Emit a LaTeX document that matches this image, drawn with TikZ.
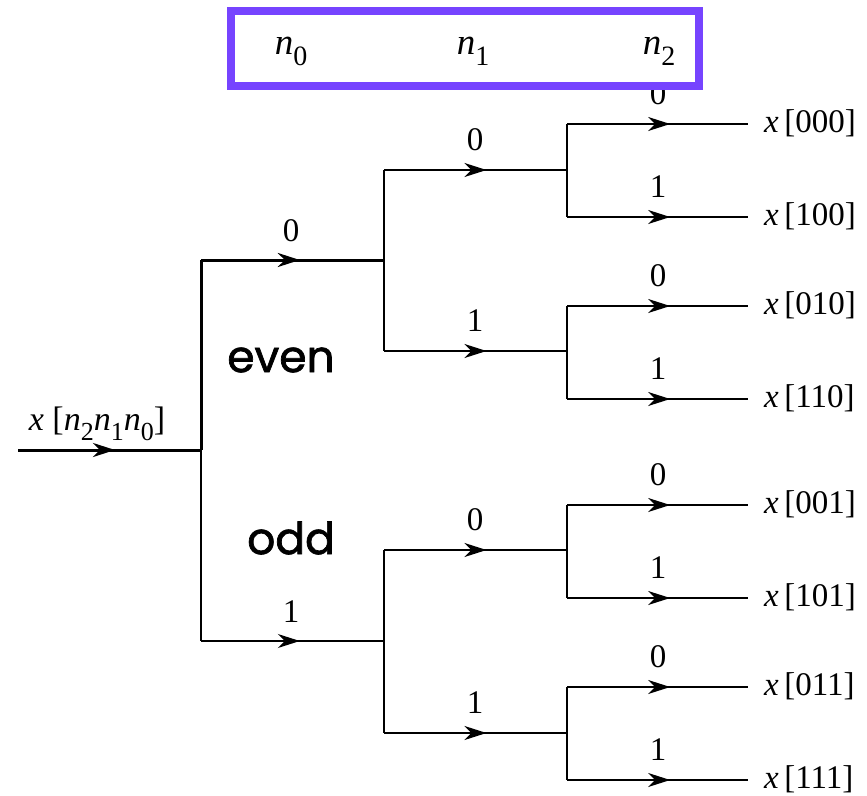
\documentclass[tikz,border=0pt]{standalone}
\usepackage{fontspec}
\setmainfont{Liberation Serif}
\newfontfamily\tagfont{Poppins}[FakeBold=1.6]
\usetikzlibrary{arrows.meta,decorations.markings}

% italic symbol with a lowered subscript digit, in Times-like text fonts
\newcommand{\isub}[3]{\textit{#1}\raisebox{-0.3em}{\fontsize{#3}{#3}\selectfont #2}}

\tikzset{
  thinwire/.style={line width=1.3pt},
  thickwire/.style={line width=3pt},
  flow/.style={postaction={decorate},
    decoration={markings,
      mark=at position #1 with {\arrow{Stealth[length=22pt,width=14pt,inset=7pt]}}}},
  flow/.default=0.56,
  bit/.style={font=\fontsize{33}{33}\selectfont, inner sep=0pt},
  outlbl/.style={font=\fontsize{33}{33}\selectfont, anchor=west, inner sep=0pt},
  tag/.style={font=\tagfont\fontsize{44}{44}\selectfont, inner sep=0pt},
  hdr/.style={font=\fontsize{37}{37}\selectfont, inner sep=0pt},
  frame/.style={draw={rgb,255:red,118;green,68;blue,255}, line width=8pt}
}

\begin{document}
\begin{tikzpicture}[x=1pt,y=-1pt]
\useasboundingbox (0,0) rectangle (867,795);

% input and first split
\coordinate (in) at (18,450);
\coordinate (r) at (201,450);
\coordinate (rt) at (201,260);
\coordinate (rb) at (201,641);
\coordinate (s0) at (384,260);
\coordinate (s1) at (384,641);

\draw[thickwire,flow=0.53] (in) -- (r);
\draw[thickwire] (r) -- (rt);
\draw[thickwire,flow=0.54] (rt) -- (s0);
\draw[thinwire] (r) -- (rb);
\draw[thinwire,flow=0.54] (rb) -- (s1);

\node[font=\fontsize{34}{34}\selectfont, inner sep=0pt] (inlbl) at (97,424)
  {\textit{x} [\isub{n}{2}{26}\isub{n}{1}{26}\isub{n}{0}{26}]};
\node[bit] (l0) at (291,231) {0};
\node[bit] (l1) at (291,612) {1};

% second split
\foreach \src/\ya/\yb/\na/\nb in {s0/170/351/t00/t01, s1/550/733/t10/t11}{
  \coordinate (\na a) at (384,\ya);
  \coordinate (\nb a) at (384,\yb);
  \coordinate (\na) at (567,\ya);
  \coordinate (\nb) at (567,\yb);
  \draw[thinwire] (\na a) -- (\nb a);
  \draw[thinwire,flow] (\na a) -- (\na);
  \draw[thinwire,flow] (\nb a) -- (\nb);
  \node[bit] (\na l) at (475,\ya-30) {0};
  \node[bit] (\nb l) at (475,\yb-30) {1};
}

% third split and outputs
\foreach \src/\ya/\yb/\oa/\ob in {t00/124/217/000/100, t01/306/399/010/110,
                                  t10/505/598/001/101, t11/687/780/011/111}{
  \coordinate (u\oa) at (567,\ya);
  \coordinate (u\ob) at (567,\yb);
  \coordinate (e\oa) at (748,\ya);
  \coordinate (e\ob) at (748,\yb);
  \draw[thinwire] (u\oa) -- (u\ob);
  \draw[thinwire,flow=0.57] (u\oa) -- (e\oa);
  \draw[thinwire,flow=0.57] (u\ob) -- (e\ob);
  \node[bit] (b\oa) at (658,\ya-30) {0};
  \node[bit] (b\ob) at (658,\yb-30) {1};
  \node[outlbl] (x\oa) at ([xshift=16pt,yshift=1pt]e\oa) {\textit{x}\,[\oa]};
  \node[outlbl] (x\ob) at ([xshift=16pt,yshift=1pt]e\ob) {\textit{x}\,[\ob]};
}

\node[tag] (even) at (281,360) {even};
\node[tag] (odd) at (291,538) {odd};

% bit-position header
\draw[frame, fill=white] (231,11) rectangle (699,86);
\node[hdr] (h0) at (291,51) {\isub{n}{0}{28}};
\node[hdr] (h1) at (473,51) {\isub{n}{1}{28}};
\node[hdr] (h2) at (659,51) {\isub{n}{2}{28}};
\end{tikzpicture}
\end{document}
